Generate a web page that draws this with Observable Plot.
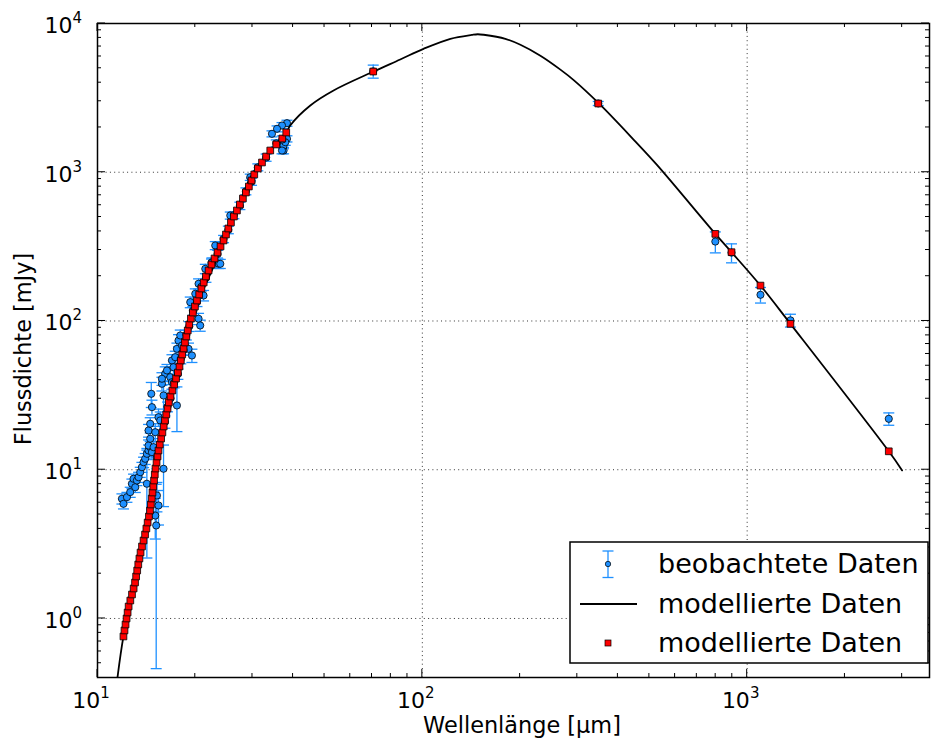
<!DOCTYPE html>
<html><head><meta charset="utf-8">
<script src="https://cdn.jsdelivr.net/npm/d3@7"></script>
<script src="https://cdn.jsdelivr.net/npm/@observablehq/plot@0.6"></script>
<style>body{margin:0;background:#fff;} svg{font-family:"DejaVu Sans",sans-serif;}</style>
</head><body><div id="chart"></div><script>
// ---- observed spectrum (Wellenlänge µm, Fluss mJy, Fehler mJy)
const specWl = [11.89,12.02,12.32,12.61,12.76,12.91,13.07,13.22,13.38,13.54,13.70,13.86,14.02,14.19,14.36,14.53,14.71,14.36,14.53,14.36,14.53,14.71,14.64,15.06,14.88,15.24,15.41,15.60,15.97,15.79,16.16,15.97,14.19,15.24,15.41,15.06,15.16,17.56,16.75,16.95,
 15.79,16.36,16.95,17.14,17.35,17.56,17.76,17.98,18.20,19.06,19.53,19.75,20.47,20.71,19.30,20.00,20.47,21.21,21.47,22.51,23.59,23.04,23.88,25.63,29.53,37.40,38.31,36.98,35.70,34.44,37.40,36.98,38.31,37.85,
 16.13,16.43,16.78,17.22,17.68,18.05,18.41,18.77,19.16,19.66,20.24,20.89,21.57,22.44,23.42,24.44,25.28,26.30,27.44,28.63,29.80,31.16,33.04,35.51,37.06];
const specFlux = [6.38,5.90,6.54,7.07,8.05,8.69,7.63,8.47,8.91,9.63,10.40,11.24,11.85,12.80,13.47,14.18,13.12,14.55,16.15,18.36,20.37,26.34,32.40,17.88,14.18,12.14,22.56,21.44,31.56,37.83,44.16,10.15,8.05,6.71,5.75,4.92,4.22,27.04,41.90,38.78,
 40.9,46.5,54.3,48.9,57.1,65.0,73.9,79.9,68.4,65.0,58.6,117.6,103.5,93.3,133.8,152.4,177.9,148.4,224.3,248.5,242.4,321.8,242.4,512,926,1400,2137,2062,1959,1813,1513,1400,1678,1592,
 21.0,26.5,30.2,38.5,44.0,55.5,63.8,80.5,92.0,117,134,170,195,246,282,356,410,515,595,745,865,1080,1255,1565,1660];
const specErr = [0.5,0.45,0.5,0.55,0.6,0.65,0.6,0.65,0.7,0.75,0.8,0.9,1.0,1.1,1.2,1.3,1.3,1.3,1.5,1.8,2.0,3.0,6.2,2.5,2.0,2.0,3.0,3.0,8.0,4.0,5.0,4.5,5.5,1.5,1.5,1.5,3.76,9.0,4.5,4.0,
 4,4.5,5,5,5.5,6,7,7,6.5,6,6,10,9,8,11,12,14,12,16,17,17,20,17,28,45,70,100,95,90,85,75,70,80,75,
 2,2,2.5,3,3.5,4,5,6,7,8,9,11,13,15,17,20,24,28,34,40,48,58,70,85,95];
// ---- observed photometry
const photWl = [70.6,348,798,895,1099,1359,2729];
const photFlux = [4770,2900,342,288,150,101,22.0];
const photErr = [480,90,55,42,18,10,2.1];
// ---- modelled values at the observed wavelengths (red squares)
const modelSpecWl = [12.02,12.11,12.20,12.29,12.38,12.47,12.62,12.77,12.92,13.05,13.15,13.25,13.35,13.46,13.57,13.71,13.86,14.01,14.14,14.27,14.40,14.51,14.60,14.69,14.77,14.85,14.93,15.01,15.09,15.20,15.31,15.41,15.55,15.70,15.84,15.99,16.13,16.28,16.43,16.58,16.78,17.00,17.22,17.45,17.68,17.88,18.05,18.23,18.41,18.59,18.77,18.96,19.16,19.39,19.66,19.95,20.24,20.56,20.89,21.23,21.57,21.98,22.44,22.93,23.42,23.92,24.44,24.86,25.28,25.75,26.30,26.87,27.44,28.03,28.63,29.24,29.80,30.38,31.16,32.09,33.04,34.03,35.51,37.06,38.11];
const modelSpecFlux = [0.757,0.831,0.911,1.000,1.097,1.204,1.321,1.450,1.591,1.746,1.916,2.102,2.307,2.531,2.778,3.048,3.344,3.670,4.027,4.419,4.849,5.321,5.839,6.407,7.031,7.715,8.466,9.290,10.19,11.19,12.28,13.47,14.78,16.22,17.80,19.54,21.44,23.52,25.81,28.32,31.08,34.10,37.42,41.07,45.07,49.45,54.27,59.55,65.34,71.71,78.68,86.34,94.74,103.9,114.0,125.2,137.3,150.7,165.4,181.5,199.2,218.6,239.8,263.2,288.8,316.8,347.8,381.5,418.7,459.4,504.1,553.3,607.1,666.2,731.1,802.1,880.2,965.8,1060,1163,1276,1400,1537,1686,1850];
const modelPhotFlux = [4754,2898,385,290,173,95.7,13.3];
// ---- model curve (black line)
const curveWl = [11.45,12.02,12.92,14.40,15.20,16.90,19.30,22.50,26.80,30.20,38.30,39.2,45.2,53.3,70.8,85.5,100.9,122,142,148,154.5,180.1,200.4,230.9,266.1,292.4,349,447.6,527.6,798,895,1099,1359,2729,3000];
const curveFlux = [0.36,0.757,1.59,4.85,10.4,30.7,100.7,219,553,1000,1888,2063,2810,3545,4756,5728,6760,7892,8380,8470,8400,7892,7193,6074,4898,4165,2912,1653,1120,385,290,173,95.7,13.3,9.9];
// ---- axis text
const xLabel = "Wellenlänge [µm]";
const yLabel = "Flussdichte [mJy]";
const legendLabels = ["beobachtete Daten", "modellierte Daten", "modellierte Daten"];
const xMajor = [10,100,1000];
const yMajor = [1,10,100,1000,10000];

const obs = specWl.map((w,i)=>({w, f:specFlux[i], e:specErr[i]}))
  .concat(photWl.map((w,i)=>({w, f:photFlux[i], e:photErr[i]})));
const model = modelSpecWl.map((w,i)=>({w, f:modelSpecFlux[i]}))
  .concat(photWl.map((w,i)=>({w, f:modelPhotFlux[i]})));
const curve = curveWl.map((w,i)=>({w, f:curveFlux[i]}));

const BLUE = "#1e90ff";
const cap = {draw(ctx, size){ const r = Math.sqrt(size/Math.PI); ctx.moveTo(-r,0); ctx.lineTo(r,0); }};

const L=97, R=929, T=23, B=677;
const plot = Plot.plot({
  width: 931, height: 743,
  marginLeft: L, marginRight: 931-R, marginTop: T, marginBottom: 743-B,
  x: {type:"log", domain:[10,3642], axis:null},
  y: {type:"log", domain:[0.401,10000], axis:null},
  style: {background:"white", fontFamily:"DejaVu Sans"},
  marks: [
    Plot.ruleX([100,1000], {stroke:"#000", strokeOpacity:0.8, strokeDasharray:"1,3.3"}),
    Plot.ruleY([1,10,100,1000], {stroke:"#000", strokeOpacity:0.8, strokeDasharray:"1,3.3"}),
    Plot.ruleX(obs, {x:"w", y1:d=>Math.max(d.f-d.e,0.01), y2:d=>d.f+d.e, stroke:BLUE, strokeWidth:1.3, clip:true}),
    Plot.dot(obs, {x:"w", y:d=>d.f+d.e, symbol:cap, r:5.5, stroke:BLUE, strokeWidth:1.3, fill:"none", clip:true}),
    Plot.dot(obs, {x:"w", y:d=>d.f-d.e, symbol:cap, r:5.5, stroke:BLUE, strokeWidth:1.3, fill:"none", clip:true}),
    Plot.dot(obs, {x:"w", y:"f", r:3.6, fill:BLUE, stroke:"black", strokeWidth:0.8}),
    Plot.line(curve, {x:"w", y:"f", stroke:"black", strokeWidth:1.8, curve:"catmull-rom", clip:true}),
    Plot.dot(model, {x:"w", y:"f", symbol:"square", r:3.8, fill:"red", stroke:"black", strokeWidth:0.8}),
    Plot.frame({stroke:"black", strokeWidth:1.5})
  ]
});
document.getElementById("chart").appendChild(plot);

const sx = plot.scale("x"), sy = plot.scale("y");
const svg = d3.select(plot);
const tg = svg.append("g").attr("stroke","black").attr("stroke-width",1);
function tick(x1,y1,x2,y2){ tg.append("line").attr("x1",x1).attr("y1",y1).attr("x2",x2).attr("y2",y2); }
const decX = [10,100,1000];
decX.forEach(d=>{
  for (let k=1;k<=9;k++){
    const v=k*d; if (v>3642) continue;
    const len = k===1?8:4, px=sx.apply(v);
    tick(px,B,px,B-len); tick(px,T,px,T+len);
  }
});
[0.1,1,10,100,1000,10000].forEach(d=>{
  for (let k=1;k<=9;k++){
    const v=k*d; if (v<0.401||v>10000) continue;
    const len = k===1?8:4, py=sy.apply(v);
    tick(L,py,L+len,py); tick(R,py,R-len,py);
  }
});
const lab = svg.append("g").attr("fill","black").style("font-family","DejaVu Sans");
xMajor.forEach(v=>{
  const px = sx.apply(v);
  const t = lab.append("text").attr("x",px-6).attr("y",B+31).attr("text-anchor","middle").attr("font-size",22);
  t.append("tspan").text("10");
  t.append("tspan").attr("font-size",15).attr("dy",-10).text(String(Math.round(Math.log10(v))));
});
yMajor.forEach(v=>{
  const py = sy.apply(v);
  const t = lab.append("text").attr("x",82).attr("y",py+10).attr("text-anchor","end").attr("font-size",22);
  t.append("tspan").text("10");
  t.append("tspan").attr("font-size",15).attr("dy",-10).text(String(Math.round(Math.log10(v))));
});
lab.append("text").attr("x",522).attr("y",733).attr("text-anchor","middle").attr("font-size",22.4).text(xLabel);
lab.append("text").attr("transform","translate(31,349) rotate(-90)").attr("text-anchor","middle").attr("font-size",22.4).text(yLabel);

// legend
const lg = svg.append("g");
lg.append("rect").attr("x",570).attr("y",542).attr("width",358).attr("height",121).attr("fill","white").attr("stroke","black").attr("stroke-width",1.5);
lg.append("line").attr("x1",608).attr("x2",608).attr("y1",551).attr("y2",577.5).attr("stroke",BLUE).attr("stroke-width",1.3);
[551,577.5].forEach(y=>lg.append("line").attr("x1",602.5).attr("x2",613.5).attr("y1",y).attr("y2",y).attr("stroke",BLUE).attr("stroke-width",1.3));
lg.append("circle").attr("cx",608).attr("cy",564).attr("r",2.7).attr("fill",BLUE).attr("stroke","black").attr("stroke-width",0.7);
lg.append("line").attr("x1",580).attr("x2",637).attr("y1",604).attr("y2",604).attr("stroke","black").attr("stroke-width",1.8);
lg.append("rect").attr("x",605).attr("y",640).attr("width",6).attr("height",6).attr("fill","red").attr("stroke","black").attr("stroke-width",0.7);
[573,613,652].forEach((y,i)=>lg.append("text").attr("x",658).attr("y",y).attr("text-anchor","start").attr("font-size",27).attr("fill","black").style("font-family","DejaVu Sans").text(legendLabels[i]));
</script></body></html>
